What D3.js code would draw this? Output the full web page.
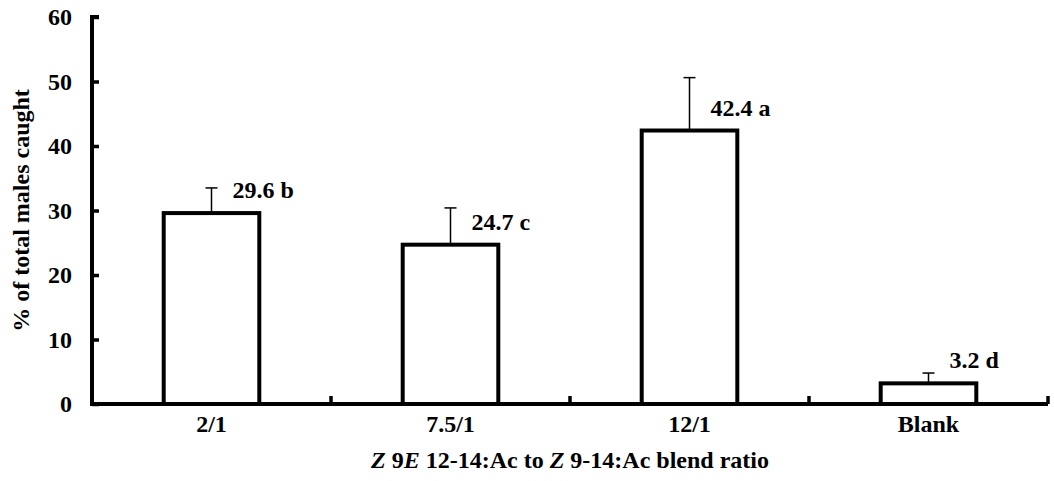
<!DOCTYPE html>
<html>
<head>
<meta charset="utf-8">
<script src="https://cdn.jsdelivr.net/npm/d3@7"></script>
<style>
  body { margin: 0; background: #fff; }
  text { font-family: "Liberation Serif", "Times New Roman", serif; font-weight: bold; }
</style>
</head>
<body>
<div id="chart"></div>
<script>
// blend ratio trial data
var categories = ["2/1", "7.5/1", "12/1", "Blank"];
var means = [29.6, 24.7, 42.4, 3.2];
var errTops = [33.5, 30.4, 50.6, 4.8];
var letters = ["b", "c", "a", "d"];
var yTicks = [0, 10, 20, 30, 40, 50, 60];

var svgWidth = 1054;
var svgHeight = 481;
var margin = { top: 17, right: 4, bottom: 77, left: 92 };

var width = svgWidth - margin.left - margin.right;
var height = svgHeight - margin.top - margin.bottom;

var svg = d3.select("#chart")
    .append("svg")
    .attr("width", svgWidth)
    .attr("height", svgHeight);

var chartGroup = svg.append("g")
    .attr("transform", `translate(${margin.left},${margin.top})`);

var xScale = d3.scaleBand()
    .domain(categories)
    .range([0, width - 2]);

var yScale = d3.scaleLinear()
    .domain([0, 60])
    .range([height, 0]);

// y axis, ticks point inward
var yAxis = d3.axisLeft(yScale).tickValues(yTicks).tickSize(-7).tickPadding(20);
var yG = chartGroup.append("g").call(yAxis);
yG.select(".domain").attr("stroke-width", 4).attr("d", `M0,${height}V0h7`);
yG.selectAll(".tick line").attr("stroke-width", 3.5);
yG.selectAll(".tick text")
    .attr("font-size", 24)
    .attr("font-family", "Liberation Serif")
    .attr("font-weight", "bold");

// x axis with ticks between categories
var xG = chartGroup.append("g")
    .attr("transform", `translate(0,${height})`);
xG.append("line")
    .attr("x1", -2).attr("x2", xScale.range()[1])
    .attr("stroke", "#000").attr("stroke-width", 4);
xG.selectAll(".sep")
    .data(categories)
    .enter()
    .append("line")
    .attr("class", "sep")
    .attr("x1", d => xScale(d) + xScale.bandwidth())
    .attr("x2", d => xScale(d) + xScale.bandwidth())
    .attr("y1", 0).attr("y2", -8)
    .attr("stroke", "#000").attr("stroke-width", 3.5);
xG.selectAll(".xlab")
    .data(categories)
    .enter()
    .append("text")
    .attr("x", d => xScale(d) + xScale.bandwidth() / 2)
    .attr("y", 28)
    .attr("text-anchor", "middle")
    .attr("font-size", 24)
    .text(d => d);

var barW = xScale.bandwidth() * 0.4;
var cx = i => xScale(categories[i]) + xScale.bandwidth() / 2;

// error bars (upper only)
var errG = chartGroup.append("g");
means.forEach(function(m, i) {
    errG.append("line")
        .attr("x1", cx(i)).attr("x2", cx(i))
        .attr("y1", yScale(m)).attr("y2", yScale(errTops[i]))
        .attr("stroke", "#000").attr("stroke-width", 1.5);
    errG.append("line")
        .attr("x1", cx(i) - 6).attr("x2", cx(i) + 6)
        .attr("y1", yScale(errTops[i])).attr("y2", yScale(errTops[i]))
        .attr("stroke", "#000").attr("stroke-width", 1.5);
});

// bars
chartGroup.selectAll(".bar")
    .data(means)
    .enter()
    .append("rect")
    .attr("class", "bar")
    .attr("x", (d, i) => cx(i) - barW / 2)
    .attr("y", d => yScale(d))
    .attr("width", barW)
    .attr("height", d => height - yScale(d))
    .attr("fill", "#fff")
    .attr("stroke", "#000")
    .attr("stroke-width", 4);

// value labels
chartGroup.selectAll(".val")
    .data(means)
    .enter()
    .append("text")
    .attr("x", (d, i) => cx(i) + 21)
    .attr("y", d => yScale(d) - 15)
    .attr("font-size", 24)
    .text((d, i) => d.toFixed(1) + " " + letters[i]);

// axis titles
svg.append("text")
    .attr("transform", `translate(29, ${margin.top + height / 2}) rotate(-90)`)
    .attr("text-anchor", "middle")
    .attr("font-size", 24)
    .text("% of total males caught");

var xt = svg.append("text")
    .attr("x", margin.left + xScale.range()[1] / 2)
    .attr("y", 468)
    .attr("text-anchor", "middle")
    .attr("font-size", 24);
xt.append("tspan").attr("font-style", "italic").text("Z");
xt.append("tspan").text(" 9");
xt.append("tspan").attr("font-style", "italic").text("E");
xt.append("tspan").text(" 12-14:Ac to ");
xt.append("tspan").attr("font-style", "italic").text("Z");
xt.append("tspan").text(" 9-14:Ac blend ratio");
</script>
</body>
</html>
